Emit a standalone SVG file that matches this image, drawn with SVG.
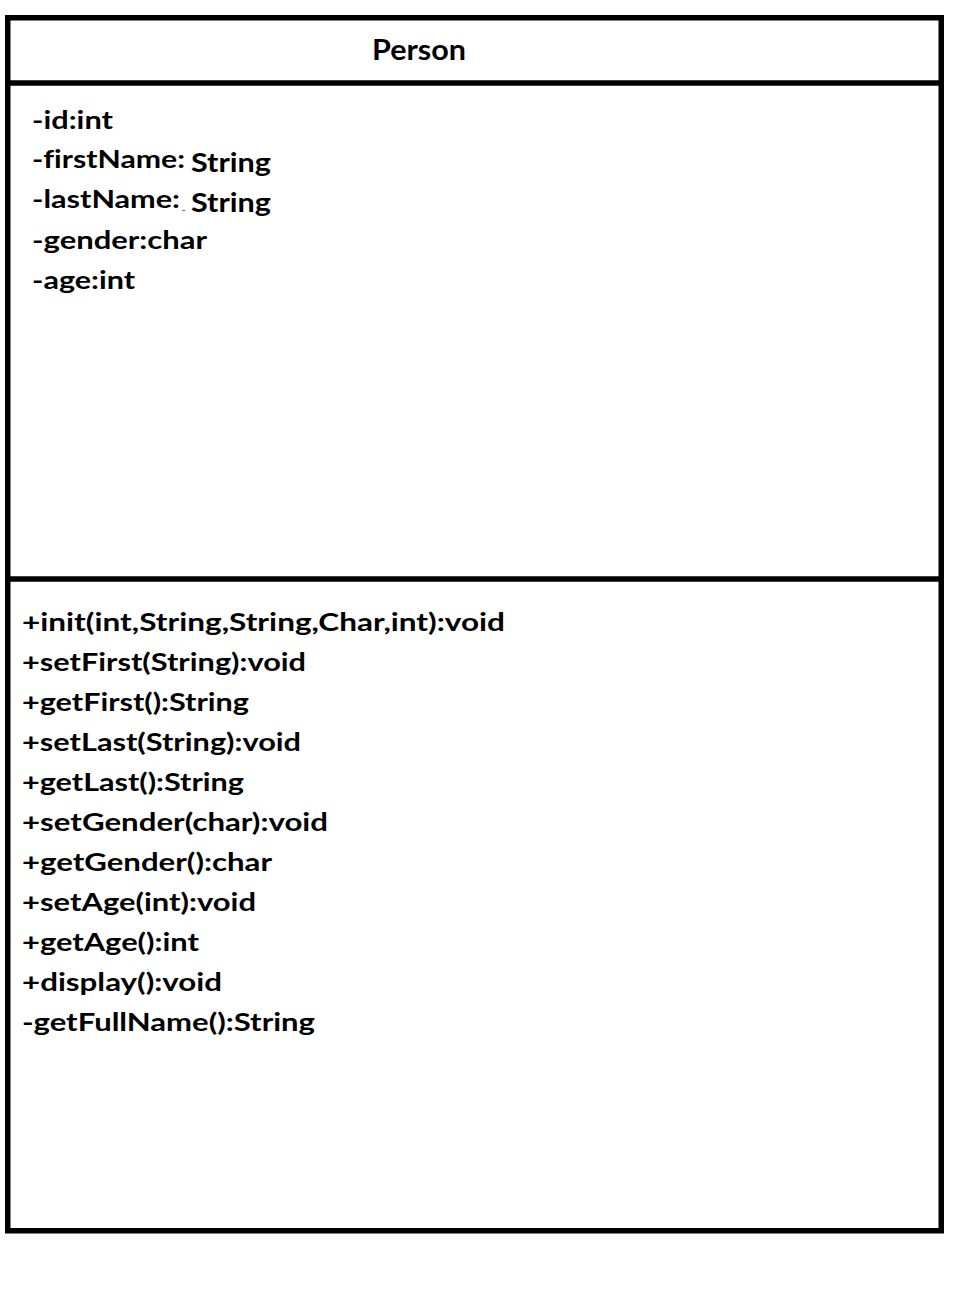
<svg xmlns="http://www.w3.org/2000/svg" width="960" height="1300" viewBox="0 0 960 1300">
<style>
.box{fill:#fff;stroke:#000;stroke-width:5.5}
.div{stroke:#000;stroke-width:5.5}
.t{font-family:Lato,"Liberation Sans",sans-serif;font-weight:bold;fill:#000;font-variant-ligatures:none}
.a{font-size:25px}
.s{font-size:27px}
.m{font-size:25px}
.h{font-size:28px}
</style>
<rect width="960" height="1300" fill="#fff"/>
<g id="person">
  <rect class="box" x="7.75" y="17.75" width="933.5" height="1213"/>
  <g id="person-name">
    <text class="t h" x="372" y="60" textLength="94" lengthAdjust="spacingAndGlyphs">Person</text>
  </g>
  <line class="div" x1="5" y1="83" x2="944" y2="83"/>
  <g id="person-attributes">
    <text class="t a" x="32" y="129" textLength="81" lengthAdjust="spacingAndGlyphs">-id:int</text>
    <text class="t a" x="32" y="168" textLength="153" lengthAdjust="spacingAndGlyphs">-firstName:</text>
    <text class="t s" x="191" y="172" textLength="80" lengthAdjust="spacingAndGlyphs">String</text>
    <text class="t a" x="32" y="208" textLength="148" lengthAdjust="spacingAndGlyphs">-lastName:</text>
    <text class="t" x="182" y="210" font-size="7">_</text>
    <text class="t s" x="191" y="212" textLength="80" lengthAdjust="spacingAndGlyphs">String</text>
    <text class="t a" x="32" y="249" textLength="175" lengthAdjust="spacingAndGlyphs">-gender:char</text>
    <text class="t a" x="32" y="289" textLength="103" lengthAdjust="spacingAndGlyphs">-age:int</text>
  </g>
  <line class="div" x1="5" y1="579" x2="944" y2="579"/>
  <g id="person-methods">
    <text class="t m" x="22" y="631" textLength="483" lengthAdjust="spacingAndGlyphs">+init(int,String,String,Char,int):void</text>
    <text class="t m" x="22" y="671" textLength="284" lengthAdjust="spacingAndGlyphs">+setFirst(String):void</text>
    <text class="t m" x="22" y="711" textLength="227" lengthAdjust="spacingAndGlyphs">+getFirst():String</text>
    <text class="t m" x="22" y="751" textLength="279" lengthAdjust="spacingAndGlyphs">+setLast(String):void</text>
    <text class="t m" x="22" y="791" textLength="222" lengthAdjust="spacingAndGlyphs">+getLast():String</text>
    <text class="t m" x="22" y="831" textLength="306" lengthAdjust="spacingAndGlyphs">+setGender(char):void</text>
    <text class="t m" x="22" y="871" textLength="250" lengthAdjust="spacingAndGlyphs">+getGender():char</text>
    <text class="t m" x="22" y="911" textLength="234" lengthAdjust="spacingAndGlyphs">+setAge(int):void</text>
    <text class="t m" x="22" y="951" textLength="177" lengthAdjust="spacingAndGlyphs">+getAge():int</text>
    <text class="t m" x="22" y="991" textLength="200" lengthAdjust="spacingAndGlyphs">+display():void</text>
    <text class="t m" x="22" y="1031" textLength="293" lengthAdjust="spacingAndGlyphs">-getFullName():String</text>
  </g>
</g>
</svg>
